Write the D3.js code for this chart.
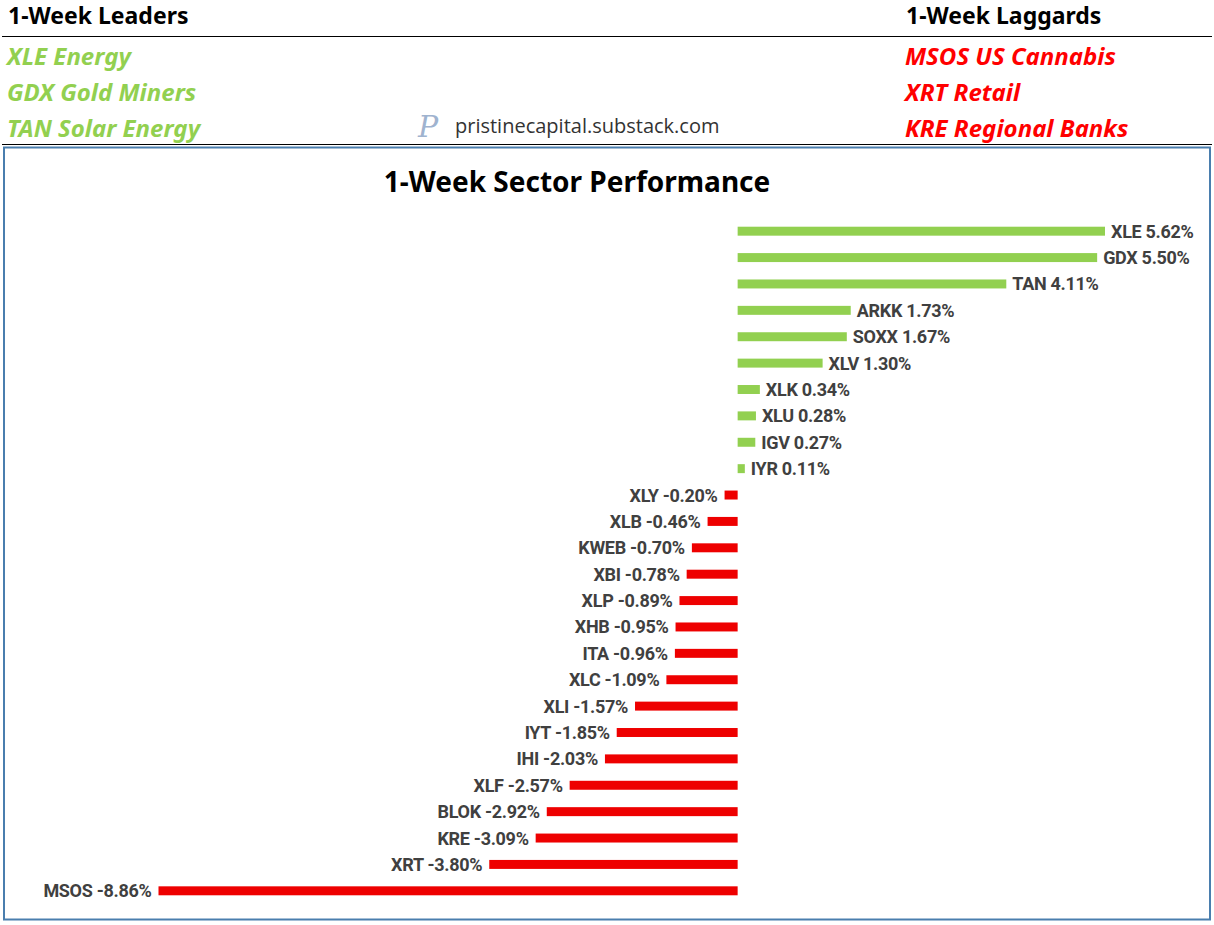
<!DOCTYPE html>
<html>
<head>
<meta charset="utf-8">
<script src="https://cdn.jsdelivr.net/npm/d3@7"></script>
<style>
  body { margin: 0; background: #fff; }
  svg { display: block; }
</style>
</head>
<body>
<svg id="vis"></svg>
<script>
const WIDTH = 1214;
const HEIGHT = 925;

// datos
const tickers = ["XLE", "GDX", "TAN", "ARKK", "SOXX", "XLV", "XLK", "XLU", "IGV", "IYR",
  "XLY", "XLB", "KWEB", "XBI", "XLP", "XHB", "ITA", "XLC", "XLI", "IYT", "IHI", "XLF",
  "BLOK", "KRE", "XRT", "MSOS"];
const retornos = [5.62, 5.50, 4.11, 1.73, 1.67, 1.30, 0.34, 0.28, 0.27, 0.11,
  -0.20, -0.46, -0.70, -0.78, -0.89, -0.95, -0.96, -1.09, -1.57, -1.85, -2.03, -2.57,
  -2.92, -3.09, -3.80, -8.86];
const lideres = ["XLE Energy", "GDX Gold Miners", "TAN Solar Energy"];
const rezagados = ["MSOS US Cannabis", "XRT Retail", "KRE Regional Banks"];

const VERDE = "#92d050";
const ROJO = "#ee0000";
const FUENTE = "'Noto Sans', 'Open Sans', sans-serif";

const svg = d3.select("#vis").attr("width", WIDTH).attr("height", HEIGHT);

// encabezado
svg.append("text").attr("x", 8).attr("y", 24)
  .attr("font-family", FUENTE).attr("font-weight", "bold").attr("font-size", "23px")
  .attr("fill", "#000").text("1-Week Leaders");
svg.append("text").attr("x", 906).attr("y", 24)
  .attr("font-family", FUENTE).attr("font-weight", "bold").attr("font-size", "23px")
  .attr("fill", "#000").text("1-Week Laggards");

svg.append("line").attr("x1", 2).attr("x2", 1212).attr("y1", 36.5).attr("y2", 36.5)
  .attr("stroke", "#000").attr("stroke-width", 1);
svg.append("line").attr("x1", 2).attr("x2", 1212).attr("y1", 144.5).attr("y2", 144.5)
  .attr("stroke", "#000").attr("stroke-width", 1);

svg.selectAll(".lider").data(lideres).join("text")
  .attr("class", "lider")
  .attr("x", 7).attr("y", (_, i) => 65 + i * 36)
  .attr("font-family", FUENTE).attr("font-weight", "bold").attr("font-style", "italic")
  .attr("font-size", "24px").attr("fill", VERDE).text((d) => d);

svg.selectAll(".rezagado").data(rezagados).join("text")
  .attr("class", "rezagado")
  .attr("x", 905).attr("y", (_, i) => 65 + i * 36)
  .attr("font-family", FUENTE).attr("font-weight", "bold").attr("font-style", "italic")
  .attr("font-size", "24px").attr("fill", "#ff0000").text((d) => d);

// logo
svg.append("text").attr("x", 418).attr("y", 137)
  .attr("font-family", "'DejaVu Serif', serif").attr("font-style", "italic")
  .attr("font-size", "30px").attr("fill", "#9fb3cf").text("P");
svg.append("text").attr("x", 455).attr("y", 133)
  .attr("font-family", "'Open Sans', sans-serif").attr("font-size", "20px")
  .attr("fill", "#333").text("pristinecapital.substack.com");

// marco del gráfico
svg.append("rect").attr("x", 4).attr("y", 147.5).attr("width", 1206).attr("height", 772)
  .attr("fill", "none").attr("stroke", "#4a7eae").attr("stroke-width", 2);

svg.append("text").attr("x", 577).attr("y", 192)
  .attr("text-anchor", "middle")
  .attr("font-family", FUENTE).attr("font-weight", "bold").attr("font-size", "28px")
  .attr("fill", "#000").text("1-Week Sector Performance");

// escalas
const escalaX = d3.scaleLinear().domain([-8.86, 5.62]).range([158.5, 1105]);
const escalaY = d3.scaleBand().domain(tickers).range([218, 904]).paddingInner(0.66).paddingOuter(0.33);

const datos = tickers.map((t, i) => ({ ticker: t, valor: retornos[i] }));

const barras = svg.append("g");
barras.selectAll("rect").data(datos).join("rect")
  .attr("x", (d) => escalaX(Math.min(0, d.valor)))
  .attr("y", (d) => escalaY(d.ticker))
  .attr("width", (d) => Math.abs(escalaX(d.valor) - escalaX(0)))
  .attr("height", escalaY.bandwidth())
  .attr("fill", (d) => (d.valor >= 0 ? VERDE : ROJO));

barras.selectAll("text").data(datos).join("text")
  .attr("x", (d) => (d.valor >= 0 ? escalaX(d.valor) + 6 : escalaX(d.valor) - 7))
  .attr("y", (d) => escalaY(d.ticker) + escalaY.bandwidth() / 2)
  .attr("dy", "0.36em")
  .attr("text-anchor", (d) => (d.valor >= 0 ? "start" : "end"))
  .attr("font-family", "'Roboto', sans-serif").attr("font-weight", "bold")
  .attr("font-size", "18px").attr("letter-spacing", "-0.3px")
  .attr("fill", "#404040")
  .text((d) => `${d.ticker} ${d.valor.toFixed(2)}%`);
</script>
</body>
</html>
